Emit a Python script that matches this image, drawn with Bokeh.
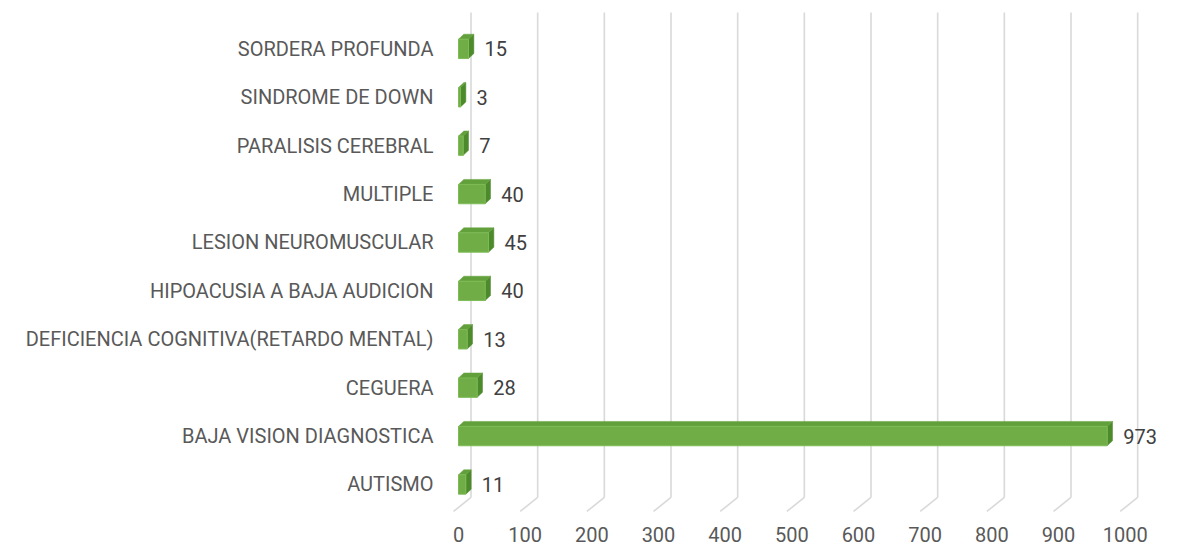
from bokeh.plotting import figure
from bokeh.models import Range1d, FixedTicker, ColumnDataSource
from bokeh.core.properties import value
from bokeh.embed import file_html
from bokeh.resources import INLINE

categories = ["AUTISMO", "BAJA VISION DIAGNOSTICA", "CEGUERA",
              "DEFICIENCIA COGNITIVA(RETARDO MENTAL)", "HIPOACUSIA A BAJA AUDICION",
              "LESION NEUROMUSCULAR", "MULTIPLE", "PARALISIS CEREBRAL",
              "SINDROME DE DOWN", "SORDERA PROFUNDA"]
values = [11, 973, 28, 13, 40, 45, 40, 7, 3, 15]
x_ticks = [0, 100, 200, 300, 400, 500, 600, 700, 800, 900, 1000]

FONT = "Roboto"
FSIZE = "20px"
DEPTH_X = 8.0
DEPTH_Y = 0.103
HALF = 0.2
BACK = 18.75
FRONT = -7.5
WALL_BOTTOM = -0.269
FLOOR_FRONT = -0.558
WALL_TOP = 9.75

p = figure(width=1172, height=549, output_backend="svg", toolbar_location=None,
           x_range=Range1d(-19.5, 1068), y_range=Range1d(-0.579, 9.793),
           min_border_left=445, min_border_right=2, min_border_top=10,
           min_border_bottom=37)
p.outline_line_color = None
p.xgrid.visible = False
p.ygrid.visible = False

# 3D-looking gridlines (back wall + floor)
p.segment(x0=[t + BACK for t in x_ticks], y0=[WALL_BOTTOM] * len(x_ticks),
          x1=[t + BACK for t in x_ticks], y1=[WALL_TOP] * len(x_ticks),
          line_color="#D9D9D9", line_width=1.6)
p.segment(x0=[t + BACK for t in x_ticks], y0=[WALL_BOTTOM] * len(x_ticks),
          x1=[t + FRONT for t in x_ticks], y1=[FLOOR_FRONT] * len(x_ticks),
          line_color="#D9D9D9", line_width=1.6)

ys = list(range(len(categories)))
# side faces
side_xs = [[v, v + DEPTH_X, v + DEPTH_X, v] for v in values]
side_ys = [[y - HALF, y - HALF + DEPTH_Y, y + HALF + DEPTH_Y, y + HALF] for y in ys]
p.patches(side_xs, side_ys, fill_color="#4C8A2B", line_color="#4C8A2B", line_width=0.5)
# top faces
top_xs = [[0, v, v + DEPTH_X, DEPTH_X] for v in values]
top_ys = [[y + HALF, y + HALF, y + HALF + DEPTH_Y, y + HALF + DEPTH_Y] for y in ys]
p.patches(top_xs, top_ys, fill_color="#62A03B", line_color="#62A03B", line_width=0.5)
# front faces
p.hbar(y=ys, left=0, right=values, height=2 * HALF, fill_color="#70AD47",
       line_color="#7DBB55", line_width=1)

src = ColumnDataSource(dict(x=values, y=ys, t=[str(v) for v in values]))
p.text(x="x", y="y", text="t", source=src, x_offset=16, text_align="left",
       text_baseline="middle", text_font=value(FONT), text_font_size=FSIZE,
       text_color="#404040")

p.yaxis.ticker = FixedTicker(ticks=ys)
p.yaxis.major_label_overrides = {i: c for i, c in enumerate(categories)}
p.xaxis.ticker = FixedTicker(ticks=x_ticks)
for ax in (p.xaxis, p.yaxis):
    ax.axis_line_color = None
    ax.major_tick_line_color = None
    ax.minor_tick_line_color = None
    ax.major_tick_in = 0
    ax.major_tick_out = 0
    ax.major_label_text_font = FONT
    ax.major_label_text_font_size = FSIZE
    ax.major_label_text_color = "#595959"
p.yaxis.major_label_standoff = 12
p.xaxis.major_label_standoff = 14

open("out.html", "w").write(file_html(p, INLINE))
